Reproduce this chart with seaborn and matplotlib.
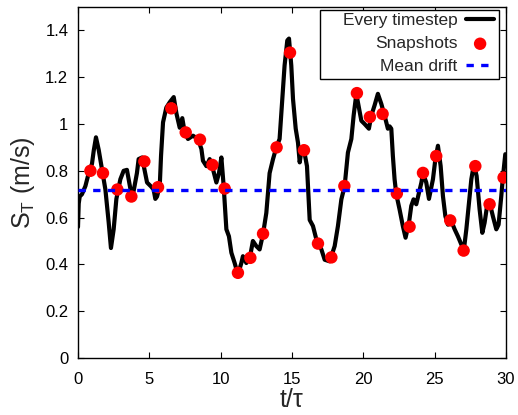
import numpy as np
import pandas as pd
import matplotlib
matplotlib.use("Agg")
import matplotlib.pyplot as plt
import seaborn as sns
from matplotlib.ticker import FuncFormatter
from matplotlib.patches import Rectangle

# ---- data ----
t_line = [0.0, 0.05, 0.12, 0.28, 0.52, 0.75, 0.98, 1.1, 1.26, 1.45, 1.68, 1.92, 2.15, 2.31, 2.5, 2.69,
          2.97, 3.2, 3.43, 3.55, 3.72, 3.9, 4.13, 4.25, 4.49, 4.65, 4.84, 5.12, 5.3, 5.42, 5.54, 5.73,
          5.82, 5.96, 6.19, 6.43, 6.71, 6.9, 7.13, 7.31, 7.48, 7.71, 8.06, 8.41, 8.65, 8.76, 9.0, 9.23,
          9.46, 9.7, 9.88, 10.05, 10.21, 10.3, 10.4, 10.58, 10.75, 10.98, 11.21, 11.45, 11.56, 11.8,
          12.05, 12.26, 12.5, 12.73, 12.97, 13.2, 13.43, 13.67, 13.9, 14.13, 14.32, 14.48, 14.67, 14.79,
          14.95, 15.07, 15.26, 15.42, 15.54, 15.65, 15.84, 16.05, 16.24, 16.47, 16.71, 17.06, 17.29,
          17.64, 17.99, 18.22, 18.46, 18.69, 18.92, 19.16, 19.32, 19.51, 19.86, 20.09, 20.39, 20.56,
          20.79, 21.02, 21.26, 21.49, 21.72, 21.84, 21.96, 22.07, 22.19, 22.31, 22.54, 22.77, 22.96,
          23.2, 23.36, 23.52, 23.71, 23.9, 24.07, 24.18, 24.41, 24.6, 24.88, 25.05, 25.23, 25.42, 25.58,
          25.75, 25.93, 26.17, 26.4, 26.63, 26.87, 27.05, 27.22, 27.38, 27.57, 27.75, 27.94, 28.15,
          28.34, 28.5, 28.69, 28.85, 29.08, 29.32, 29.48, 29.67, 29.78, 29.95]
s_line = [0.56, 0.66, 0.69, 0.70, 0.735, 0.79, 0.83, 0.885, 0.943, 0.89, 0.807, 0.72, 0.58, 0.47, 0.55, 0.68,
          0.764, 0.80, 0.804, 0.764, 0.707, 0.714, 0.79, 0.85, 0.857, 0.807, 0.75, 0.733, 0.72, 0.68, 0.69, 0.735,
          0.864, 1.007, 1.07, 1.093, 1.115, 1.045, 0.984, 1.025, 0.964, 0.936, 0.95, 0.936, 0.893, 0.843, 0.82, 0.85,
          0.807, 0.75, 0.79, 0.857, 0.735, 0.65, 0.55, 0.52, 0.45, 0.406, 0.356, 0.406, 0.435, 0.406,
          0.43, 0.5, 0.478, 0.464, 0.53, 0.62, 0.79, 0.85, 0.9, 0.936, 1.107, 1.25, 1.357, 1.365,
          1.25, 1.107, 0.98, 0.92, 0.836, 0.88, 0.888, 0.82, 0.59, 0.564, 0.506, 0.464, 0.42,
          0.413, 0.478, 0.564, 0.678, 0.735, 0.878, 0.936, 1.036, 1.129, 1.014, 1.0, 0.98, 1.036,
          1.08, 1.129, 1.086, 1.036, 0.98, 0.99, 0.98, 0.864, 0.764, 0.70, 0.635, 0.564, 0.514,
          0.578, 0.65, 0.678, 0.657, 0.707, 0.75, 0.79, 0.75, 0.68, 0.764, 0.85, 0.907, 0.82, 0.692,
          0.606, 0.57, 0.585, 0.55, 0.52, 0.485, 0.464, 0.55, 0.65, 0.764, 0.828, 0.778, 0.635,
          0.535, 0.578, 0.657, 0.664, 0.606, 0.55, 0.57, 0.692, 0.771, 0.871]

t_snap = [0.87, 1.75, 2.76, 3.74, 4.65, 5.61, 6.54, 7.55, 8.55, 9.42, 10.28, 11.21, 12.08, 12.97, 13.92,
          14.86, 15.84, 16.82, 17.76, 18.67, 19.55, 20.46, 21.35, 22.35, 23.24, 24.18, 25.11, 26.09,
          27.03, 27.85, 28.85, 29.83]
s_snap = [0.80, 0.79, 0.72, 0.69, 0.84, 0.73, 1.067, 0.964, 0.933, 0.825, 0.724, 0.364, 0.428, 0.531, 0.90,
          1.305, 0.888, 0.489, 0.43, 0.735, 1.132, 1.03, 1.043, 0.703, 0.561, 0.791, 0.863, 0.588,
          0.459, 0.82, 0.657, 0.771]

mean_drift = 0.72

x_ticks = [0, 5, 10, 15, 20, 25, 30]
y_ticks = [0, 0.2, 0.4, 0.6, 0.8, 1.0, 1.2, 1.4]

labels = ["Every timestep", "Snapshots", "Mean drift"]

# ---- plot ----
sns.set_style("ticks")
plt.rcParams['font.family'] = ['Liberation Sans', 'DejaVu Sans']
plt.rcParams['mathtext.fontset'] = 'custom'
plt.rcParams['mathtext.rm'] = 'Liberation Sans'
plt.rcParams['mathtext.it'] = 'Liberation Sans'

W, H = 518, 415
fig = plt.figure(figsize=(W / 100, H / 100), dpi=100)
ax_l, ax_r, ax_t, ax_b = 78, 506, 7, 358
ax = fig.add_axes([ax_l / W, 1 - ax_b / H, (ax_r - ax_l) / W, (ax_b - ax_t) / H])

def ax_x(px):
    return (px - ax_l) / (ax_r - ax_l)

def ax_y(py):
    return (ax_b - py) / (ax_b - ax_t)

df_line = pd.DataFrame({"t": t_line, "s": s_line})
df_snap = pd.DataFrame({"t": t_snap, "s": s_snap})

sns.lineplot(data=df_line, x="t", y="s", ax=ax, color="black", lw=3.0,
             sort=False, estimator=None, label=labels[0], zorder=2)
sns.scatterplot(data=df_snap, x="t", y="s", ax=ax, color="red", s=80,
                edgecolor="none", label=labels[1], zorder=3)
ax.axhline(mean_drift, color="blue", lw=2.4, ls=(0, (2.2, 2.2)), label=labels[2], zorder=4)

ax.set_xlim(0, 30)
ax.set_ylim(0, 1.5)
ax.set_xticks(x_ticks)
ax.set_yticks(y_ticks)
ax.yaxis.set_major_formatter(FuncFormatter(lambda v, p: f"{v:g}"))
ax.tick_params(direction="in", top=True, right=True, length=4, width=0.8,
               labelsize=12, colors="black")
ax.tick_params(axis="x", pad=10)
ax.tick_params(axis="y", pad=7)
for sp in ax.spines.values():
    sp.set_color("black")
    sp.set_linewidth(1.0)

ax.set_xlabel(r"t/τ", fontsize=18, labelpad=1)
ax.set_ylabel(r"S$_\mathregular{T}$ (m/s)", fontsize=18, labelpad=6)

leg = ax.legend(loc="upper right", bbox_to_anchor=(ax_x(494), ax_y(13)),
                markerfirst=False, frameon=False, fontsize=12.5, borderaxespad=0,
                borderpad=0, handlelength=1.6, handletextpad=0.5, labelspacing=0.46)
leg.set_zorder(6)
frame = Rectangle((ax_x(320), ax_y(79)), ax_x(499) - ax_x(320), ax_y(10) - ax_y(79),
                  transform=ax.transAxes, facecolor="white", edgecolor="black",
                  lw=1.0, zorder=5)
ax.add_patch(frame)

fig.savefig("out.png", dpi=100)
